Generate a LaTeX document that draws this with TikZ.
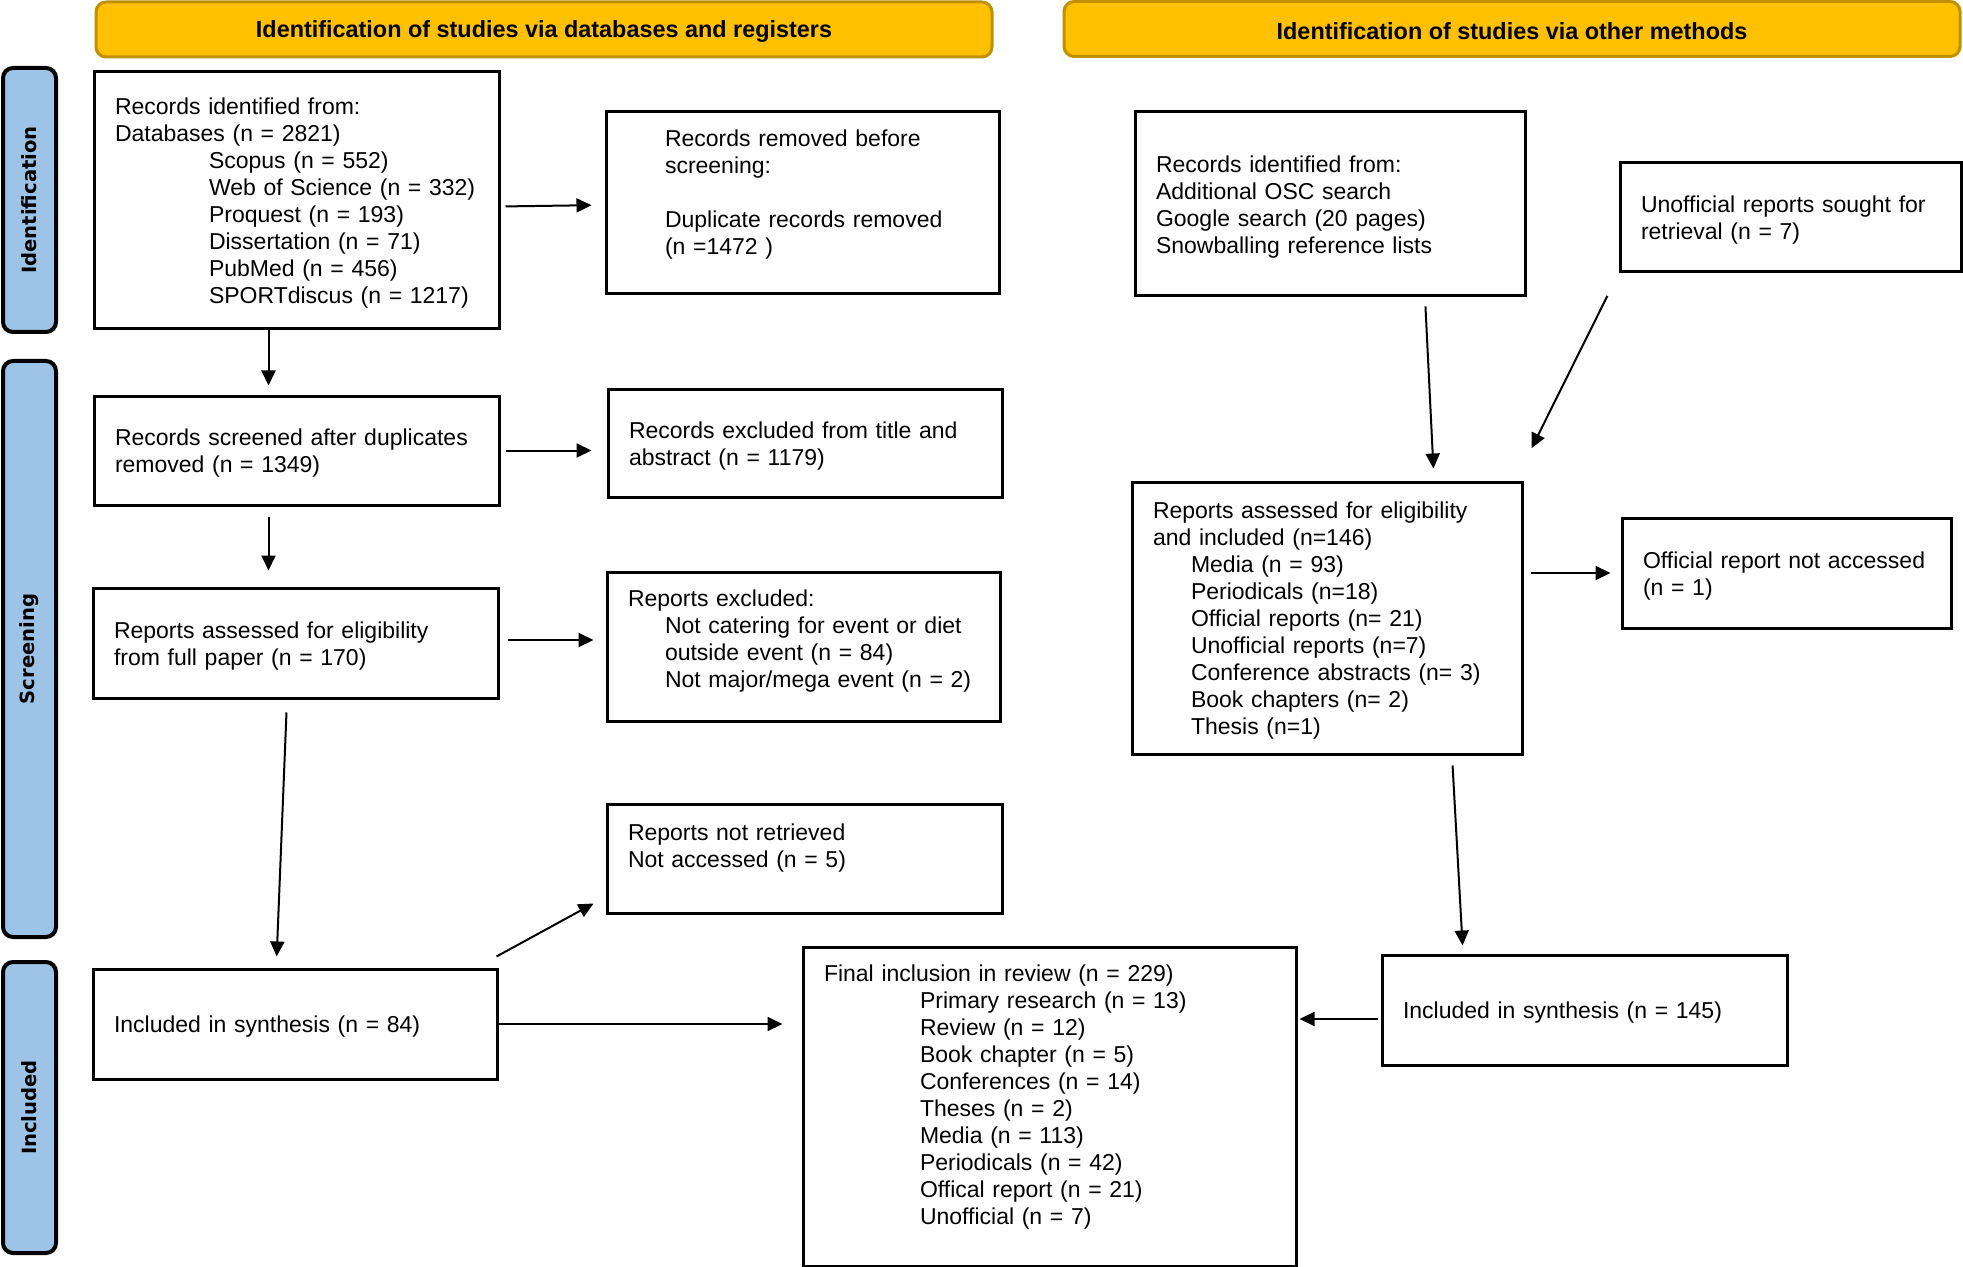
\documentclass[tikz,border=0pt]{standalone}
\usepackage{fontspec}
\setmainfont{Liberation Sans}
\newfontfamily\barfont{DejaVu Sans}
\usetikzlibrary{arrows.meta}
\definecolor{hdrgold}{HTML}{FFC000}
\definecolor{hdredge}{HTML}{BF9000}
\definecolor{barblue}{HTML}{9DC3E6}
\newcommand{\ind}[1]{\hspace*{#1}}
\tikzset{
  box/.style={draw, line width=1.5pt, rectangle, inner xsep=10.5pt, inner ysep=0pt,
    align=left, font=\fontsize{11.5}{13.5}\selectfont,
    execute at begin node={\rule{0pt}{10.9pt}}},
  hdr/.style={draw=hdredge, fill=hdrgold, line width=1.5pt, rounded corners=5pt,
    minimum width=448pt, minimum height=27.5pt,
    font=\fontsize{11.7}{13.5}\selectfont\bfseries,
    execute at begin node={\rule{0pt}{10.9pt}}},
  phase/.style={draw=black, fill=barblue, line width=2pt, rounded corners=5pt,
    rotate=90, minimum height=26.5pt, font=\barfont\fontsize{9.8}{12}\selectfont\bfseries},
  arr/.style={-{Triangle[length=7.5pt,width=7pt]}, line width=1pt},
}
\begin{document}
\begin{tikzpicture}[x=0.5pt,y=-0.5pt]
  \useasboundingbox (0,0) rectangle (1963,1267);
  % headers and phases
  \node[hdr] (hdrDb) at (544,29.5) {Identification of studies via databases and registers};
  \node[hdr] (hdrOth) at (1512,29) {Identification of studies via other methods};
  \node[phase, minimum width=132pt] (phId) at (29.5,200) {Identification};
  \node[phase, minimum width=288pt] (phScr) at (29.5,649) {Screening};
  \node[phase, minimum width=145.5pt] (phInc) at (29.5,1107.5) {Included};
  % databases and registers
  \node[box, text width=181.5pt, minimum height=128.5pt] (recDb) at (296.5,200.5)
    {Records identified from:\\Databases (n = 2821)\\\ind{47pt}Scopus (n = 552)\\
     \ind{47pt}Web of Science (n = 332)\\\ind{47pt}Proquest (n = 193)\\
     \ind{47pt}Dissertation (n = 71)\\\ind{47pt}PubMed (n = 456)\\
     \ind{47pt}SPORTdiscus (n = 1217)};
  \node[box, text width=175.5pt, minimum height=91pt] (recRem) at (802.5,203)
    {\ind{19pt}Records removed before\\\ind{19pt}screening:\\[13.5pt]
     \ind{19pt}Duplicate records removed\\\ind{19pt}(n =1472 )\\\mbox{}};
  \node[box, text width=181.5pt, minimum height=54.5pt] (recScr) at (296.5,450.5)
    {Records screened after duplicates\\removed (n = 1349)};
  \node[box, text width=176pt, minimum height=54pt] (recExc) at (805,443)
    {Records excluded from title and\\abstract (n = 1179)};
  \node[box, text width=181.5pt, minimum height=55pt] (repElig) at (295.5,643)
    {Reports assessed for eligibility\\from full paper (n = 170)};
  \node[box, text width=175.5pt, minimum height=74.5pt] (repExc) at (803.5,646.5)
    {Reports excluded:\\\ind{18.5pt}Not catering for event or diet\\
     \ind{18.5pt}outside event (n = 84)\\\ind{18.5pt}Not major/mega event (n = 2)\\[-3pt]\mbox{}};
  \node[box, text width=176.5pt, minimum height=54.5pt] (repNot) at (804.5,858.5)
    {Reports not retrieved\\Not accessed (n = 5)\\[2pt]\mbox{}};
  \node[box, text width=181.25pt, minimum height=55pt] (inclDb) at (295.25,1024)
    {Included in synthesis (n = 84)};
  \node[box, text width=225.5pt, minimum height=159.5pt] (final) at (1049.5,1106.5)
    {Final inclusion in review (n = 229)\\\ind{48pt}Primary research (n = 13)\\
     \ind{48pt}Review (n = 12)\\\ind{48pt}Book chapter (n = 5)\\
     \ind{48pt}Conferences (n = 14)\\\ind{48pt}Theses (n = 2)\\
     \ind{48pt}Media (n = 113)\\\ind{48pt}Periodicals (n = 42)\\
     \ind{48pt}Offical report (n = 21)\\\ind{48pt}Unofficial (n = 7)\\[1pt]\mbox{}};
  % other methods
  \node[box, text width=174pt, minimum height=92pt] (recOth) at (1330,204)
    {Records identified from:\\Additional OSC search\\Google search (20 pages)\\
     Snowballing reference lists};
  \node[box, text width=149.5pt, minimum height=54.5pt] (unoff) at (1790.5,217.5)
    {Unofficial reports sought for\\retrieval (n = 7)};
  \node[box, text width=174pt, minimum height=136pt] (repOth) at (1327,618)
    {Reports assessed for eligibility\\and included (n=146)\\\ind{19pt}Media (n = 93)\\
     \ind{19pt}Periodicals (n=18)\\\ind{19pt}Official reports (n= 21)\\
     \ind{19pt}Unofficial reports (n=7)\\\ind{19pt}Conference abstracts (n= 3)\\
     \ind{19pt}Book chapters (n= 2)\\\ind{19pt}Thesis (n=1)};
  \node[box, text width=143.5pt, minimum height=55pt] (offNot) at (1786.5,573)
    {Official report not accessed\\(n = 1)};
  \node[box, text width=181.5pt, minimum height=55pt] (inclOth) at (1584.5,1010)
    {Included in synthesis (n = 145)};
  \begin{scope}[arr]
    \draw[shorten <=2.5pt, shorten >=6.5pt] ([yshift=-3pt]recDb.east) to ([yshift=-1pt]recRem.west);
    \draw[shorten >=4.5pt] ([xshift=-14pt]recDb.south) to ([xshift=-14pt]recScr.north);
    \draw[shorten <=2.5pt, shorten >=7.5pt] (recScr.east) to (recScr.east -| recExc.west);
    \draw[shorten <=5pt, shorten >=8pt] ([xshift=-14pt]recScr.south) to ([xshift=-13.5pt]repElig.north);
    \draw[shorten <=4pt, shorten >=6pt] ([yshift=1.5pt]repElig.east) to ([yshift=1.5pt]repElig.east -| repExc.west);
    \draw[shorten <=6.5pt, shorten >=5.5pt] ([xshift=-4.25pt]repElig.south) to ([xshift=-9.5pt]inclDb.north);
    \draw ([xshift=-1.25pt,yshift=5.5pt]inclDb.north east) to ([xshift=-6pt,yshift=5.5pt]repNot.south west);
    \draw[shorten >=9.5pt] (inclDb.east) to (inclDb.east -| final.west);
    \draw[shorten <=4.5pt, shorten >=6pt] ([xshift=47.5pt]recOth.south) to ([xshift=53.5pt]repOth.north);
    \draw[shorten <=12.5pt, shorten >=18pt] (unoff.south west) to ([xshift=-4pt]repOth.north east);
    \draw[shorten <=3.75pt, shorten >=5pt] (offNot.west -| repOth.east) to (offNot.west);
    \draw[shorten <=5pt, shorten >=4pt] ([xshift=62.5pt]repOth.south) to ([xshift=-60.75pt]inclOth.north);
    \draw[shorten <=1.5pt, shorten >=1pt] ([yshift=-4.5pt]inclOth.west) to ([yshift=-4.5pt]inclOth.west -| final.east);
  \end{scope}
\end{tikzpicture}
\end{document}
